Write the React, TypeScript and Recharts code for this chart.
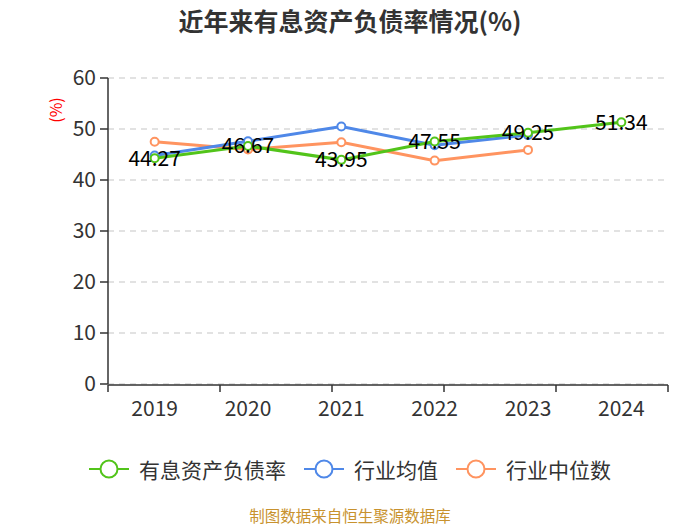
import React from 'react';
import { LineChart, Line, XAxis, YAxis, CartesianGrid, Legend, LabelList } from 'recharts';

const years = ['2019', '2020', '2021', '2022', '2023', '2024'];
const debtRatio = [44.27, 46.67, 43.95, 47.55, 49.25, 51.34];
const industryAvg: (number | null)[] = [44.8, 47.6, 50.5, 46.8, 48.8, null];
const industryMedian: (number | null)[] = [47.5, 46.0, 47.4, 43.8, 45.9, null];
const yTicks = [0, 10, 20, 30, 40, 50, 60];
const boundaryTicks = [0, 1, 2, 3, 4, 5, 6];

const seriesInfo = [
  { key: 'debt', name: '有息资产负债率', color: '#52c41a' },
  { key: 'avg', name: '行业均值', color: '#4f88e8' },
  { key: 'median', name: '行业中位数', color: '#ff9460' },
];

const data = years.map((y, i) => ({
  year: y,
  debt: debtRatio[i],
  avg: industryAvg[i],
  median: industryMedian[i],
}));

const FONT = '"Noto Sans CJK SC", "Noto Sans", sans-serif';

const EmptyTick = () => <g />;

const LegendContent = () => (
  <div style={{ display: 'flex', justifyContent: 'center', alignItems: 'center', fontFamily: FONT, fontSize: 21, color: '#333' }}>
    {seriesInfo.map((s, i) => (
      <div key={s.key} style={{ display: 'flex', alignItems: 'center', marginLeft: i === 0 ? 0 : 18 }}>
        <svg width={40} height={22} style={{ marginRight: 10 }}>
          <line x1={0} y1={11} x2={40} y2={11} stroke={s.color} strokeWidth={2} />
          <circle cx={20} cy={11} r={8.5} fill="#fff" stroke={s.color} strokeWidth={2} />
        </svg>
        <span>{s.name}</span>
      </div>
    ))}
  </div>
);

export default function App() {
  return (
    <div style={{ position: 'absolute', left: 0, top: 0, width: 700, height: 525, background: '#fff', fontFamily: FONT }}>
      <div style={{ position: 'absolute', top: 2, left: 0, width: 700, textAlign: 'center', fontSize: 25, lineHeight: '36px', fontWeight: 'bold', color: '#333' }}>
        近年来有息资产负债率情况(%)
      </div>
      <div style={{ position: 'absolute', left: 38, top: 99, width: 34, height: 22, textAlign: 'center', lineHeight: '22px', fontSize: 16, color: '#ff0000', transform: 'rotate(-90deg)' }}>
        (%)
      </div>
      <LineChart width={700} height={525} data={data} margin={{ top: 78, right: 32, bottom: 139, left: 0 }}>
        <CartesianGrid vertical={false} stroke="#d9d9d9" strokeDasharray="6 5" strokeWidth={1.5} />
        <XAxis
          xAxisId="grid"
          type="number"
          domain={[0, 6]}
          ticks={boundaryTicks}
          interval={0}
          height={1}
          tick={EmptyTick}
          tickSize={7}
          axisLine={{ stroke: '#333', strokeWidth: 1.5 }}
          tickLine={{ stroke: '#333', strokeWidth: 1.5 }}
        />
        <XAxis
          xAxisId="cat"
          dataKey="year"
          scale="band"
          height={1}
          tickLine={false}
          axisLine={false}
          tickMargin={11}
          tick={{ fontSize: 21, fill: '#333', fontFamily: FONT }}
        />
        <YAxis
          width={108}
          domain={[0, 60]}
          ticks={yTicks}
          tickSize={8}
          tickMargin={4}
          axisLine={{ stroke: '#333', strokeWidth: 1.5 }}
          tickLine={{ stroke: '#333', strokeWidth: 1.5 }}
          tick={{ fontSize: 21, fill: '#333', fontFamily: FONT }}
          interval={0}
        />
        <Legend
          verticalAlign="middle"
          align="center"
          wrapperStyle={{ top: 454, left: 0, width: 700 }}
          content={<LegendContent />}
        />
        <Line
          xAxisId="cat"
          dataKey="median"
          name="行业中位数"
          stroke={seriesInfo[2].color}
          strokeWidth={3}
          dot={{ r: 4, fill: '#fff', stroke: seriesInfo[2].color, strokeWidth: 2 }}
          isAnimationActive={false}
        />
        <Line
          xAxisId="cat"
          dataKey="avg"
          name="行业均值"
          stroke={seriesInfo[1].color}
          strokeWidth={3}
          dot={{ r: 4, fill: '#fff', stroke: seriesInfo[1].color, strokeWidth: 2 }}
          isAnimationActive={false}
        />
        <Line
          xAxisId="cat"
          dataKey="debt"
          name="有息资产负债率"
          stroke={seriesInfo[0].color}
          strokeWidth={3}
          dot={{ r: 4, fill: '#fff', stroke: seriesInfo[0].color, strokeWidth: 2 }}
          isAnimationActive={false}
        >
          <LabelList dataKey="debt" position="center" fontSize={21} fill="#000" fontFamily={FONT} />
        </Line>
      </LineChart>
      <div style={{ position: 'absolute', top: 506, left: 0, width: 700, textAlign: 'center', fontSize: 15.5, lineHeight: '18px', color: '#c8922e' }}>
        制图数据来自恒生聚源数据库
      </div>
    </div>
  );
}
